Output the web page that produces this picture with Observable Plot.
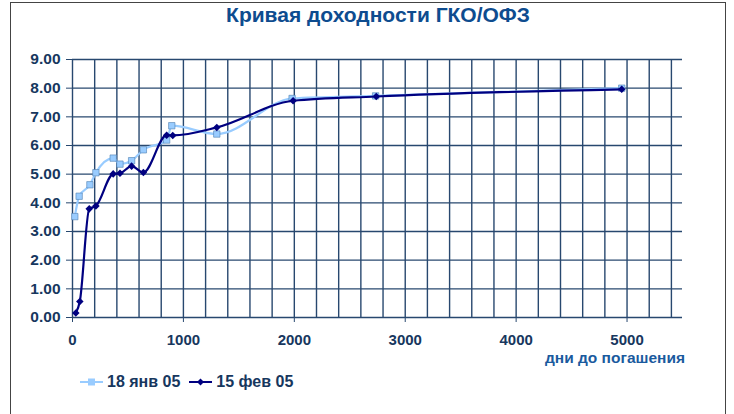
<!DOCTYPE html>
<html>
<head>
<meta charset="utf-8">
<script src="https://cdn.jsdelivr.net/npm/d3@7"></script>
<script src="https://cdn.jsdelivr.net/npm/@observablehq/plot@0.6"></script>
<style>
  html, body { margin: 0; padding: 0; background: #fff; }
  #wrap { position: relative; width: 734px; height: 414px; overflow: hidden; font-family: "Liberation Sans", Arial, sans-serif; font-weight: bold; }
  #frame { position: absolute; left: 10px; top: 2px; width: 716px; height: 430px; border: 1px solid #444; box-sizing: border-box; }
  #title { position: absolute; left: 0; width: 756px; top: 3px; text-align: center; font-size: 21px; color: #0E4C8F; }
  #xlabel { position: absolute; right: 49px; top: 349px; font-size: 15.5px; color: #1A5A9E; }
  #legend { position: absolute; left: 80px; top: 373px; font-size: 16px; color: #17375E; display: flex; align-items: center; }
  #legend span { margin-right: 4px; }
  #chart { position: absolute; left: 0; top: 0; }
</style>
</head>
<body>
<div id="wrap">
  <div id="frame"></div>
  <div id="chart"></div>
  <div id="title">Кривая доходности ГКО/ОФЗ</div>
  <div id="xlabel">дни до погашения</div>
  <div id="legend"></div>
</div>
<script>
// Series names
const seriesNames = ["18 янв 05", "15 фев 05"];
// 18 Jan 05: days to maturity and yield
const daysJan = [21, 60, 157, 211, 367, 428, 533, 639, 849, 895, 1301, 1980, 2733, 4952];
const yieldJan = [3.52, 4.23, 4.63, 5.05, 5.56, 5.35, 5.47, 5.85, 6.19, 6.69, 6.40, 7.64, 7.73, 8.00];
// 15 Feb 05
const daysFeb = [30, 66, 151, 211, 367, 428, 533, 639, 849, 904, 1301, 1989, 2739, 4952];
const yieldFeb = [0.16, 0.56, 3.79, 3.89, 5.01, 5.03, 5.28, 5.06, 6.36, 6.35, 6.63, 7.56, 7.71, 7.96];
// Ticks
const xTicks = [0, 1000, 2000, 3000, 4000, 5000];
const yTicks = [0, 1, 2, 3, 4, 5, 6, 7, 8, 9];
const xGrid = d3.range(0, 5401, 200);

const colors = ["#99CCFF", "#000080"];
const jan = daysJan.map((d, i) => ({x: d, y: yieldJan[i]}));
const feb = daysFeb.map((d, i) => ({x: d, y: yieldFeb[i]}));

const gridColor = "#28486F";
const textColor = "#17375E";

const chart = Plot.plot({
  width: 734,
  height: 380,
  marginLeft: 72,
  marginRight: 52,
  marginTop: 59,
  marginBottom: 63,
  style: {fontFamily: "'Liberation Sans', Arial, sans-serif", fontWeight: "bold", fontSize: "15px", color: textColor, background: "transparent"},
  x: {domain: [0, 5500]},
  y: {domain: [0, 9]},
  marks: [
    Plot.ruleX(xGrid, {stroke: gridColor, strokeWidth: 1.4}),
    Plot.ruleY(yTicks, {stroke: gridColor, strokeWidth: 1.4}),
    Plot.axisY({ticks: yTicks, tickFormat: d3.format(".2f"), tickSize: 6, tickPadding: 6, stroke: gridColor, fill: textColor, label: null, fontSize: "15.5px"}),
    Plot.axisX({ticks: xTicks, tickFormat: d => String(d), tickSize: 5, tickPadding: 12, stroke: gridColor, fill: textColor, label: null, fontSize: "15px"}),
    Plot.line(jan, {x: "x", y: "y", stroke: colors[0], strokeWidth: 2.2, curve: "monotone-x"}),
    Plot.dot(jan, {x: "x", y: "y", symbol: "square", r: 3.6, fill: colors[0], stroke: "#4F7FB0", strokeWidth: 0.6}),
    Plot.line(feb, {x: "x", y: "y", stroke: colors[1], strokeWidth: 2.2, curve: "monotone-x"}),
    Plot.dot(feb, {x: "x", y: "y", symbol: "diamond2", r: 3.4, fill: colors[1]})
  ]
});
document.getElementById("chart").appendChild(chart);

// Legend
const legend = document.getElementById("legend");
seriesNames.forEach((name, i) => {
  const svg = d3.create("svg").attr("width", 24).attr("height", 12).style("margin-right", "3px").style("margin-left", i ? "5px" : "0");
  svg.append("line").attr("x1", 0).attr("x2", 23).attr("y1", 6).attr("y2", 6).attr("stroke", colors[i]).attr("stroke-width", 2);
  if (i === 0) {
    svg.append("rect").attr("x", 8).attr("y", 2.5).attr("width", 7).attr("height", 7).attr("fill", colors[i]);
  } else {
    svg.append("path").attr("d", "M11.5,2.5L15,6L11.5,9.5L8,6Z").attr("fill", colors[i]);
  }
  legend.appendChild(svg.node());
  const s = document.createElement("span");
  s.textContent = name;
  legend.appendChild(s);
});
</script>
</body>
</html>
